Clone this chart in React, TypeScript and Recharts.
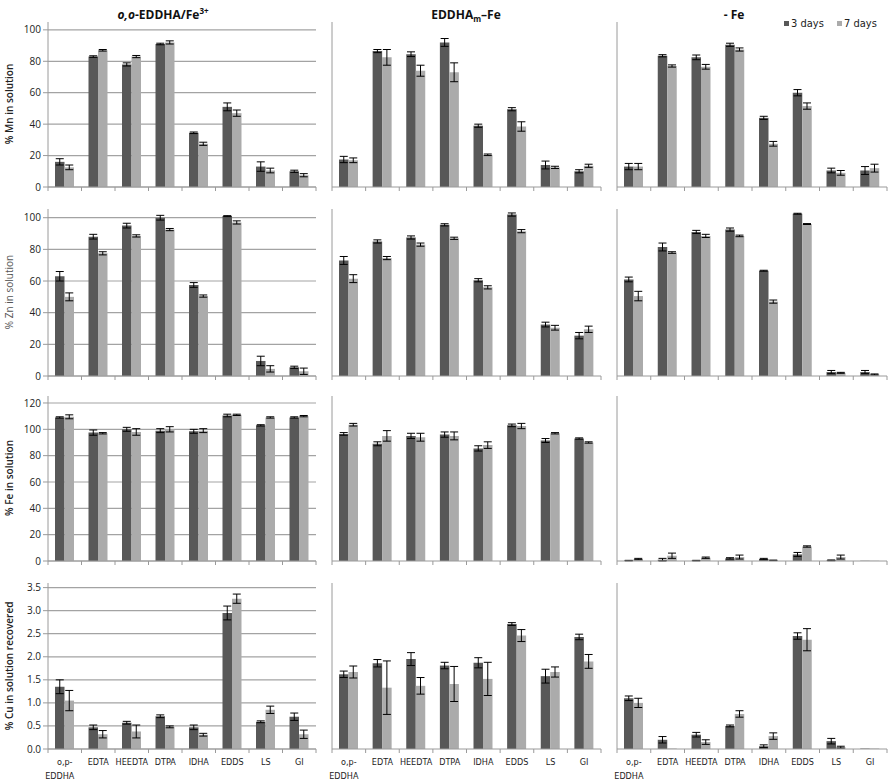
import { BarChart, Bar, XAxis, YAxis, CartesianGrid, ErrorBar } from "recharts";

const categories = ["o,p-EDDHA", "EDTA", "HEEDTA", "DTPA", "IDHA", "EDDS", "LS", "GI"];
const colTitles = ["o,o-EDDHA/Fe3+", "EDDHAm-Fe", "- Fe"];
const rowTitles = ["% Mn in solution", "% Zn in solution", "% Fe in solution", "% Cu in solution recovered"];
const legendLabels = ["3 days", "7 days"];

const pctTicks = [0, 20, 40, 60, 80, 100];
const feTicks = [0, 20, 40, 60, 80, 100, 120];
const cuTicks = [0, 0.5, 1, 1.5, 2, 2.5, 3, 3.5];

// Mn
const mnOo3 = [16, 83, 78, 91, 34.5, 51, 13, 10];
const mnOo7 = [12.5, 87, 83, 92, 27.5, 47, 10.5, 7.5];
const mnOoE3 = [2, 0.5, 1, 0.5, 0.5, 2.5, 3, 0.7];
const mnOoE7 = [1.5, 0.5, 0.7, 1, 1, 2, 1.5, 1];
const mnM3 = [17.5, 86.5, 84.5, 92, 39, 49.5, 14, 10];
const mnM7 = [17, 82.5, 74, 73, 20.5, 38.5, 12.5, 13.5];
const mnME3 = [2, 1, 1.5, 2.5, 1, 1, 2.5, 1];
const mnME7 = [1.5, 5, 3.5, 6, 0.5, 3, 0.7, 1];
const mnNo3 = [13, 83.5, 82.5, 90.5, 44, 60, 10.5, 10.5];
const mnNo7 = [13, 77, 76.5, 87.5, 27.5, 51.5, 9, 12];
const mnNoE3 = [2, 0.7, 1.5, 1, 1, 2, 1.5, 2.5];
const mnNoE7 = [2, 0.7, 1.5, 1, 1.5, 2, 1.5, 2.5];

// Zn
const znOo3 = [63, 88, 95, 100, 57.5, 101, 9.5, 5.5];
const znOo7 = [50, 77.5, 88.5, 92.5, 50.5, 97, 4.5, 3];
const znOoE3 = [3, 1.5, 1.5, 1.5, 1.5, 0.3, 3, 0.7];
const znOoE7 = [2.5, 1, 0.7, 0.7, 0.7, 1, 2, 2];
const znM3 = [73, 85, 87.5, 95.5, 60.5, 102, 32.5, 25.5];
const znM7 = [61.5, 74.5, 83, 87, 56, 91.5, 30.5, 29.5];
const znME3 = [2.5, 1, 1, 0.7, 1, 1, 1.5, 2];
const znME7 = [2.5, 1, 1, 0.7, 1, 1, 1.5, 2];
const znNo3 = [61, 81.5, 91, 92.5, 66.5, 102.5, 2.5, 2.5];
const znNo7 = [50.5, 78, 88.5, 88.5, 47, 96, 2, 1];
const znNoE3 = [1.5, 2.5, 1, 1, 0.3, 0.3, 1, 1];
const znNoE7 = [3, 0.5, 1, 0.5, 1, 0.3, 0.3, 0.3];

// Fe
const feOo3 = [109, 97.5, 100, 99, 98.5, 110.5, 103, 109];
const feOo7 = [109.5, 97, 98, 100, 99, 111, 109, 110];
const feOoE3 = [0.5, 2, 1.5, 1.5, 1.5, 1, 0.5, 0.5];
const feOoE7 = [1.5, 0.5, 2.5, 2, 1.5, 0.5, 0.5, 0.5];
const feM3 = [96.5, 89, 95, 96, 85.5, 103, 91.5, 93];
const feM7 = [103.5, 95, 94, 95, 88, 102.5, 97, 90];
const feME3 = [1, 1.5, 2, 2, 2, 1, 1.5, 0.5];
const feME7 = [1, 4, 3, 3, 2.5, 2, 0.5, 0.5];
const feNo3 = [0.3, 1, 0.3, 2, 1.5, 5, 0.5, 0.2];
const feNo7 = [1.5, 4, 2.5, 3, 0.5, 11, 3, 0.2];
const feNoE3 = [0.2, 1, 0.2, 0.5, 0.5, 1.5, 0.3, 0];
const feNoE7 = [0.5, 2, 0.5, 1.5, 0.2, 0.5, 1.5, 0];

// Cu
const cuOo3 = [1.35, 0.47, 0.57, 0.71, 0.47, 2.95, 0.59, 0.7];
const cuOo7 = [1.05, 0.32, 0.38, 0.48, 0.31, 3.26, 0.85, 0.32];
const cuOoE3 = [0.15, 0.05, 0.03, 0.03, 0.05, 0.15, 0.02, 0.08];
const cuOoE7 = [0.22, 0.08, 0.14, 0.02, 0.03, 0.1, 0.08, 0.09];
const cuM3 = [1.62, 1.86, 1.95, 1.81, 1.87, 2.71, 1.58, 2.43];
const cuM7 = [1.67, 1.33, 1.37, 1.41, 1.52, 2.46, 1.67, 1.9];
const cuME3 = [0.07, 0.08, 0.14, 0.07, 0.11, 0.03, 0.15, 0.06];
const cuME7 = [0.13, 0.58, 0.18, 0.38, 0.36, 0.13, 0.11, 0.15];
const cuNo3 = [1.1, 0.2, 0.31, 0.5, 0.06, 2.45, 0.17, 0.01];
const cuNo7 = [1.0, 0.01, 0.15, 0.76, 0.28, 2.37, 0.04, 0.01];
const cuNoE3 = [0.05, 0.07, 0.05, 0.02, 0.03, 0.07, 0.06, 0];
const cuNoE7 = [0.1, 0, 0.05, 0.07, 0.07, 0.24, 0.02, 0];

const DARK = "#585858";
const LIGHT = "#ababab";
const GRID = "#a3a3a3";
const AXIS = "#9a9a9a";
const NARROW = "'Liberation Sans Narrow', 'DejaVu Sans Condensed', 'Liberation Sans', sans-serif";
const SANS = "'Open Sans', 'Noto Sans', sans-serif";

const build = (d3: number[], d7: number[], e3: number[], e7: number[]) =>
  categories.map((name, i) => ({ name, d3: d3[i], d7: d7[i], e3: e3[i], e7: e7[i] }));

const panels = [
  [build(mnOo3, mnOo7, mnOoE3, mnOoE7), build(mnM3, mnM7, mnME3, mnME7), build(mnNo3, mnNo7, mnNoE3, mnNoE7)],
  [build(znOo3, znOo7, znOoE3, znOoE7), build(znM3, znM7, znME3, znME7), build(znNo3, znNo7, znNoE3, znNoE7)],
  [build(feOo3, feOo7, feOoE3, feOoE7), build(feM3, feM7, feME3, feME7), build(feNo3, feNo7, feNoE3, feNoE7)],
  [build(cuOo3, cuOo7, cuOoE3, cuOoE7), build(cuM3, cuM7, cuME3, cuME7), build(cuNo3, cuNo7, cuNoE3, cuNoE7)],
];

const cols = [
  { left: 0, plotL: 48, plotR: 316, yw: 48 },
  { left: 322, plotL: 332, plotR: 601, yw: 10 },
  { left: 607, plotL: 617, plotR: 887, yw: 10 },
];

const rows = [
  { top: 22, zero: 187, max: 105, ticks: pctTicks, cy: 104 },
  { top: 209, zero: 376, max: 105.5, ticks: pctTicks, cy: 292 },
  { top: 396, zero: 561, max: 125.3, ticks: feTicks, cy: 478 },
  { top: 583, zero: 749, max: 3.6, ticks: cuTicks, cy: 666 },
];

function makeTick(bw: number, labels: boolean) {
  return (props: any) => {
    const { x, y, index, payload } = props;
    const last = index === categories.length - 1;
    const name: string = payload.value;
    const parts = name.startsWith("o,p-") ? ["o,p-", name.slice(4)] : [name];
    return (
      <g>
        <line x1={x - bw / 2} x2={x - bw / 2} y1={y} y2={y + 4} stroke={AXIS} />
        {last && <line x1={x + bw / 2} x2={x + bw / 2} y1={y} y2={y + 4} stroke={AXIS} />}
        {labels &&
          parts.map((p, k) => (
            <text
              key={k}
              x={k === 1 ? x - 5 : x}
              y={y + 16 + k * 14}
              textAnchor="middle"
              fontSize={9}
              fontFamily={NARROW}
              fill="#222"
            >
              {p}
            </text>
          ))}
      </g>
    );
  };
}

function Panel({ r, c }: { r: number; c: number }) {
  const row = rows[r];
  const col = cols[c];
  const xh = r === 3 ? 36 : 8;
  const chartTop = row.top - 4;
  const height = row.zero - chartTop + xh;
  const width = col.plotR - col.left + 4;
  const bw = (col.plotR - col.plotL) / categories.length;
  const fmt = (v: number) => (r === 3 ? v.toFixed(1) : String(v));
  return (
    <div style={{ position: "absolute", left: col.left, top: chartTop }}>
      <BarChart
        width={width}
        height={height}
        data={panels[r][c]}
        margin={{ top: 4, right: 4, bottom: 0, left: 0 }}
        barGap={0}
      >
        <CartesianGrid vertical={false} syncWithTicks stroke={GRID} strokeWidth={1.2} />
        <XAxis
          dataKey="name"
          interval={0}
          height={xh}
          tickSize={0}
          tickMargin={0}
          tickLine={false}
          axisLine={{ stroke: AXIS }}
          tick={makeTick(bw, r === 3)}
        />
        <YAxis
          domain={[0, row.max]}
          ticks={row.ticks}
          interval={0}
          width={col.yw}
          tickSize={5}
          tickLine={{ stroke: AXIS }}
          axisLine={{ stroke: AXIS }}
          tickFormatter={fmt}
          tick={c === 0 ? { fontSize: 10, fill: "#222", fontFamily: SANS } : false}
        />
        <Bar dataKey="d3" fill={DARK} barSize={9.5} isAnimationActive={false}>
          <ErrorBar dataKey="e3" width={4} stroke="#000" strokeWidth={1} isAnimationActive={false} />
        </Bar>
        <Bar dataKey="d7" fill={LIGHT} barSize={9.5} isAnimationActive={false}>
          <ErrorBar dataKey="e7" width={4} stroke="#000" strokeWidth={1} isAnimationActive={false} />
        </Bar>
      </BarChart>
    </div>
  );
}

export default function App() {
  const titleX = [163, 466, 734];
  return (
    <div style={{ position: "absolute", left: 0, top: 0, width: 892, height: 784, background: "#fff" }}>
      {rows.map((_, r) => cols.map((__, c) => <Panel key={`${r}-${c}`} r={r} c={c} />))}
      <svg width={892} height={784} style={{ position: "absolute", left: 0, top: 0, pointerEvents: "none" }}>
        <text x={titleX[0]} y={19} textAnchor="middle" fontSize={12} fontWeight={700} fontFamily={SANS} fill="#111">
          <tspan fontStyle="italic">o,o</tspan>
          <tspan>{colTitles[0].slice(3, 12)}</tspan>
          <tspan dy={-5} fontSize={8}>
            {colTitles[0].slice(12)}
          </tspan>
        </text>
        <text x={titleX[1]} y={19} textAnchor="middle" fontSize={12} fontWeight={700} fontFamily={SANS} fill="#111">
          <tspan>{colTitles[1].slice(0, 5)}</tspan>
          <tspan dy={3} fontSize={8}>
            {colTitles[1].slice(5, 6)}
          </tspan>
          <tspan dy={-3}>–{colTitles[1].slice(7)}</tspan>
        </text>
        <text x={titleX[2]} y={19} textAnchor="middle" fontSize={12} fontWeight={700} fontFamily={SANS} fill="#111">
          {colTitles[2]}
        </text>
        {rows.map((row, r) => (
          <text
            key={r}
            transform={`translate(13, ${row.cy}) rotate(-90)`}
            textAnchor="middle"
            fontSize={10}
            fontWeight={r === 1 ? 400 : 600}
            fontFamily={SANS}
            fill={r === 1 ? "#555" : "#222"}
          >
            {rowTitles[r]}
          </text>
        ))}
        <rect x={784} y={21} width={5} height={5} fill={DARK} />
        <text x={791} y={27} fontSize={11} fontFamily={NARROW} fill="#222">
          {legendLabels[0]}
        </text>
        <rect x={837} y={21} width={5} height={5} fill={LIGHT} />
        <text x={844} y={27} fontSize={11} fontFamily={NARROW} fill="#222">
          {legendLabels[1]}
        </text>
      </svg>
    </div>
  );
}
